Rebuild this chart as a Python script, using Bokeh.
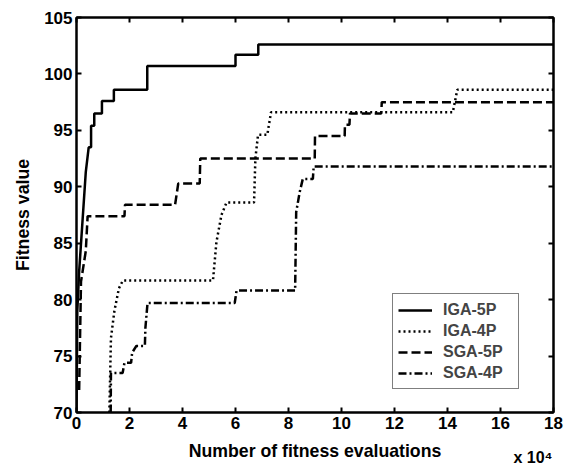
from bokeh.plotting import figure
from bokeh.models import Range1d, FixedTicker, LinearAxis, Legend, LegendItem, Title
from bokeh.embed import file_html
from bokeh.resources import INLINE

# ---- data (x in units of 1e4 evaluations) ----
iga5_x = [0.0, 0.03, 0.10, 0.35, 0.46, 0.55, 0.55, 0.67, 0.67, 0.96, 0.96, 1.41, 1.41, 2.67, 2.67, 6.00, 6.00, 6.86, 6.86, 18.0]
iga5_y = [70.0, 79.0, 82.5, 91.3, 93.5, 93.5, 95.4, 95.4, 96.5, 96.5, 97.6, 97.6, 98.6, 98.6, 100.7, 100.7, 101.7, 101.7, 102.6, 102.6]

iga4_x = [1.24, 1.30, 1.43, 1.60, 1.75, 5.15, 5.28, 5.47, 5.66, 6.70, 6.75, 6.85, 7.20, 7.34, 14.20, 14.37, 18.0]
iga4_y = [70.0, 76.6, 79.0, 81.0, 81.7, 81.7, 85.1, 87.5, 88.6, 88.6, 92.5, 94.6, 94.6, 96.6, 96.6, 98.6, 98.6]

sga5_x = [0.10, 0.17, 0.29, 0.35, 0.42, 1.81, 1.83, 3.72, 3.84, 4.65, 4.67, 8.99, 9.00, 10.12, 10.13, 10.30, 10.32, 11.50, 11.52, 18.0]
sga5_y = [72.0, 81.6, 83.4, 84.3, 87.4, 87.4, 88.4, 88.4, 90.3, 90.3, 92.5, 92.5, 94.5, 94.5, 95.5, 95.5, 96.5, 96.5, 97.5, 97.5]

sga4_x = [1.29, 1.30, 1.42, 1.74, 1.81, 2.06, 2.10, 2.26, 2.58, 2.60, 2.68, 5.97, 6.04, 8.25, 8.29, 8.42, 8.54, 8.92, 8.95, 18.0]
sga4_y = [70.0, 73.5, 73.5, 73.5, 74.4, 74.4, 75.3, 75.9, 75.9, 77.5, 79.7, 79.7, 80.8, 80.8, 87.75, 89.5, 90.7, 90.7, 91.8, 91.8]

series_names = ["IGA-5P", "IGA-4P", "SGA-5P", "SGA-4P"]
x_ticks = [0, 2, 4, 6, 8, 10, 12, 14, 16, 18]
y_ticks = [70, 75, 80, 85, 90, 95, 100, 105]
x_scale_note = "x 10\u2074"

FONT = "Liberation Sans"

p = figure(width=566, height=466, output_backend="svg", toolbar_location=None,
           x_range=Range1d(0, 18), y_range=Range1d(70, 105),
           min_border_left=76, min_border_right=13, min_border_top=17, min_border_bottom=54)
p.background_fill_color = "white"
p.border_fill_color = "white"
p.outline_line_color = "black"
p.outline_line_width = 2
p.xgrid.visible = False
p.ygrid.visible = False

def style_axis(ax, ticks, show_labels=True):
    ax.ticker = FixedTicker(ticks=ticks)
    ax.axis_line_width = 2
    ax.axis_line_color = "black"
    ax.major_tick_in = 5
    ax.major_tick_out = 0
    ax.major_tick_line_width = 2
    ax.minor_tick_line_color = None
    ax.major_label_text_font = FONT
    ax.major_label_text_font_style = "bold"
    if show_labels:
        ax.major_label_text_font_size = "17px"
        ax.major_label_text_color = "black"
    else:
        ax.major_label_text_font_size = "1px"
        ax.major_label_text_color = None
    ax.axis_label_text_font = FONT
    ax.axis_label_text_font_style = "bold"
    ax.axis_label_text_font_size = "17.7px"
    ax.axis_label_text_color = "black"

style_axis(p.xaxis[0], x_ticks)
style_axis(p.yaxis[0], y_ticks)
p.xaxis[0].axis_label = "Number of fitness evaluations"
p.yaxis[0].axis_label = "Fitness value"
p.xaxis[0].major_label_standoff = 4
p.yaxis[0].major_label_standoff = 4
p.xaxis[0].axis_label_standoff = 9
p.yaxis[0].axis_label_standoff = 8

top_ax = LinearAxis()
style_axis(top_ax, x_ticks, show_labels=False)
top_ax.major_label_standoff = 0
p.add_layout(top_ax, "above")
right_ax = LinearAxis()
style_axis(right_ax, y_ticks, show_labels=False)
right_ax.major_label_standoff = 0
p.add_layout(right_ax, "right")

r1 = p.line(iga5_x, iga5_y, line_color="black", line_width=2.5)
r2 = p.line(iga4_x, iga4_y, line_color="black", line_width=2.5, line_dash="2 3")
r3 = p.line(sga5_x, sga5_y, line_color="black", line_width=2.5, line_dash="9 4")
r4 = p.line(sga4_x, sga4_y, line_color="black", line_width=2.5, line_dash="8 3 2 3")

legend = Legend(items=[LegendItem(label=n, renderers=[r]) for n, r in zip(series_names, [r1, r2, r3, r4])],
                location=(316, 23))
legend.border_line_color = "black"
legend.border_line_width = 1
legend.background_fill_alpha = 1
legend.label_text_font = FONT
legend.label_text_font_style = "bold"
legend.label_text_font_size = "16px"
legend.glyph_width = 34
legend.glyph_height = 20
legend.label_height = 21
legend.label_width = 70
legend.label_standoff = 11
legend.padding = 5
legend.spacing = 0
legend.margin = 0
p.add_layout(legend, "center")

note = Title(text=x_scale_note, align="right", vertical_align="top", offset=1, standoff=-30,
             text_font=FONT, text_font_style="bold", text_font_size="16px", text_color="black")
p.add_layout(note, "below")

open("out.html", "w").write(file_html(p, INLINE))
